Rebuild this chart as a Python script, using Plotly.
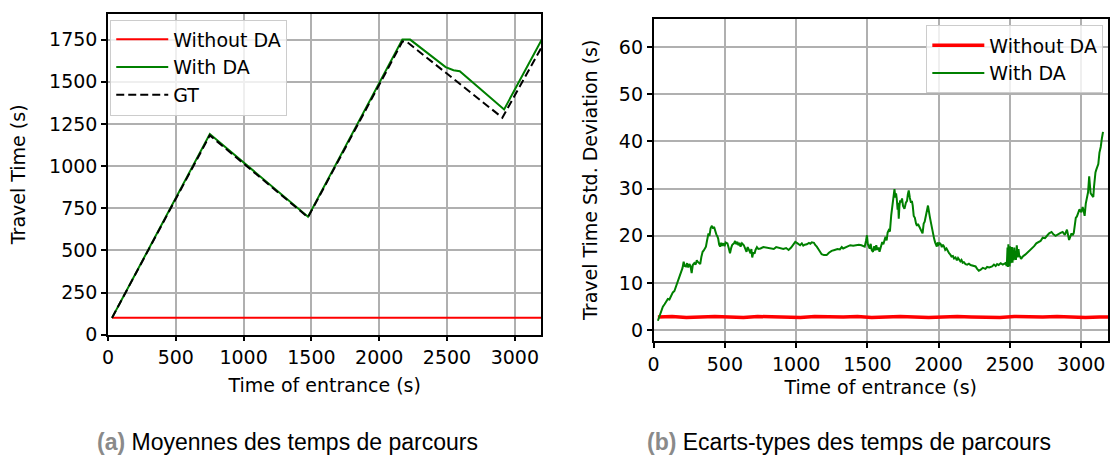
import plotly.graph_objects as go

# ---------------- data ----------------
# (a) mean travel time vs time of entrance
without_mean_x = [30, 3200]
without_mean_y = [100, 100]

with_mean_x = [30, 751, 1475, 2171, 2228, 2490, 2548, 2594, 2921, 3200]
with_mean_y = [100, 1190, 700, 1750, 1750, 1587, 1568, 1562, 1336, 1752]

gt_x = [30, 751, 1475, 2171, 2202, 2908, 3200]
gt_y = [100, 1182, 696, 1738, 1738, 1287, 1708]

# (b) travel time standard deviation vs time of entrance
without_std_x = [30, 130, 230, 330, 430, 530, 630, 730, 830, 930, 1030, 1130,
                 1230, 1330, 1430, 1530, 1630, 1730, 1830, 1930, 2030, 2130,
                 2230, 2330, 2430, 2530, 2630, 2730, 2830, 2930, 3030, 3130, 3200]
without_std_y = [2.8, 2.9, 2.7, 2.8, 2.9, 2.8, 2.7, 2.9, 2.8, 2.8, 2.7, 2.9,
                 2.8, 2.8, 2.9, 2.7, 2.8, 2.9, 2.8, 2.7, 2.8, 2.9, 2.8, 2.8,
                 2.7, 2.9, 2.8, 2.8, 2.9, 2.8, 2.7, 2.8, 2.8]

with_std_x = [30, 45, 53, 65, 77, 90, 100, 111, 125, 135, 146, 158, 169, 180,
              193, 203, 211, 218, 227, 235, 243, 251, 259, 267, 275, 286, 295,
              303, 309, 318, 327, 335, 344, 352, 360, 367, 375, 385, 392, 400,
              409, 418, 424, 430, 440, 447, 453, 460, 467, 474, 480, 490, 498,
              505, 518, 527, 536, 545, 552, 564, 572, 580, 587, 595, 603, 610,
              620, 633, 642, 652, 660, 668, 680, 686, 692, 700, 708, 715, 725,
              735, 750, 770, 796, 820, 843, 860, 875, 889, 910, 930, 947, 965,
              980, 994, 1010, 1020, 1028, 1040, 1050, 1060, 1075, 1090, 1100,
              1110, 1125, 1135, 1145, 1160, 1179, 1195, 1214, 1230, 1249, 1270,
              1290, 1307, 1320, 1330, 1342, 1360, 1380, 1400, 1420, 1440, 1458,
              1470, 1481, 1490, 1497, 1503, 1509, 1516, 1523, 1530, 1539, 1548,
              1555, 1562, 1570, 1578, 1585, 1594, 1604, 1612, 1620, 1627, 1635,
              1642, 1650, 1658, 1667, 1675, 1684, 1690, 1696, 1701, 1706, 1712,
              1716, 1720, 1725, 1730, 1736, 1743, 1750, 1760, 1770, 1778, 1784,
              1790, 1798, 1806, 1812, 1818, 1825, 1833, 1841, 1848, 1855, 1864,
              1872, 1880, 1887, 1895, 1902, 1906, 1912, 1919, 1925, 1931, 1938,
              1945, 1952, 1961, 1968, 1975, 1987, 1993, 2000, 2008, 2015, 2022,
              2030, 2038, 2046, 2055, 2065, 2073, 2082, 2090, 2100, 2108, 2118,
              2128, 2136, 2143, 2152, 2160, 2168, 2177, 2188, 2200, 2212, 2224,
              2240, 2259, 2270, 2282, 2295, 2310, 2328, 2340, 2355, 2375, 2388,
              2400, 2410, 2421, 2435, 2450, 2468, 2478, 2483, 2486, 2489, 2492,
              2495, 2498, 2501, 2504, 2507, 2510, 2514, 2518, 2522, 2526, 2530,
              2534, 2538, 2542, 2548, 2555, 2560, 2565, 2571, 2578, 2590, 2607,
              2625, 2640, 2653, 2670, 2685, 2700, 2715, 2730, 2746, 2760, 2775,
              2792, 2805, 2820, 2839, 2855, 2870, 2885, 2900, 2915, 2932, 2940,
              2948, 2955, 2962, 2970, 2978, 2988, 3001, 3010, 3017, 3024, 3032,
              3040, 3048, 3056, 3066, 3075, 3085, 3090, 3094, 3100, 3106, 3113,
              3120, 3128, 3137, 3145, 3153, 3160, 3169, 3178, 3188, 3200]
with_std_y = [2.0, 3.5, 4.1, 5.0, 5.5, 6.0, 6.6, 6.5, 7.6, 8.0, 8.3, 9.4, 10.3,
              11.5, 12.4, 13.2, 14.5, 13.6, 13.5, 14.2, 13.3, 14.0, 13.6, 12.1,
              13.8, 14.2, 13.9, 14.8, 14.5, 14.3, 14.0, 15.5, 16.6, 16.9, 17.4,
              17.7, 19.0, 20.5, 20.0, 21.6, 22.1, 21.5, 21.9, 21.2, 20.3, 19.9,
              19.4, 18.1, 17.7, 18.5, 17.9, 18.4, 17.8, 18.6, 18.4, 17.4, 16.3,
              17.5, 18.1, 18.4, 18.9, 18.2, 18.7, 18.0, 18.5, 17.7, 18.4, 18.0,
              17.2, 16.6, 17.6, 17.0, 16.3, 17.2, 15.4, 16.5, 16.2, 17.0, 17.6,
              17.2, 17.3, 17.6, 17.5, 17.3, 17.2, 17.6, 17.5, 17.3, 17.2, 17.4,
              17.0, 17.5, 18.2, 18.7, 18.4, 18.1, 18.0, 18.4, 17.9, 18.1, 18.2,
              18.5, 18.3, 18.6, 18.5, 18.0, 17.7, 17.0, 16.1, 15.9, 15.9, 16.4,
              16.8, 17.0, 17.2, 17.1, 17.6, 17.3, 17.5, 17.8, 18.0, 17.9, 18.0,
              18.1, 18.0, 17.8, 17.7, 18.9, 20.1, 18.2, 17.6, 17.3, 18.3, 17.0,
              16.6, 17.8, 16.9, 18.0, 17.0, 17.5, 16.6, 17.4, 18.7, 18.2, 19.5,
              19.8, 19.0, 20.7, 21.2, 20.9, 24.3, 26.8, 28.3, 29.9, 28.1, 29.0,
              27.8, 25.5, 27.0, 23.6, 26.4, 27.5, 27.1, 27.9, 26.3, 25.7, 27.0,
              27.4, 28.8, 29.6, 28.0, 27.0, 27.4, 26.4, 24.2, 23.8, 22.6, 22.1,
              22.5, 21.9, 21.4, 21.0, 20.5, 22.6, 23.0, 23.6, 25.0, 25.5, 26.4,
              24.6, 24.0, 22.9, 21.6, 20.1, 19.4, 18.6, 17.7, 18.6, 18.1, 18.4,
              18.2, 17.6, 18.1, 17.7, 17.0, 17.3, 16.5, 16.3, 16.0, 15.6, 15.7,
              15.2, 15.4, 14.8, 15.3, 14.9, 14.6, 14.9, 14.3, 14.4, 14.0, 13.9,
              14.1, 13.8, 13.6, 13.5, 13.0, 12.6, 12.8, 13.2, 13.0, 13.4, 13.3,
              13.5, 13.9, 13.6, 14.0, 13.8, 14.2, 13.9, 14.2, 13.6, 17.5, 13.4,
              18.2, 14.0, 17.2, 13.5, 17.8, 14.2, 17.0, 14.6, 17.6, 14.3, 16.8,
              14.8, 17.5, 15.0, 16.4, 14.9, 18.0, 15.4, 17.2, 15.8, 15.6, 15.1,
              15.6, 16.0, 16.5, 17.0, 17.3, 17.8, 18.4, 18.6, 18.9, 19.6, 19.5,
              20.0, 20.5, 20.8, 20.3, 20.0, 20.4, 20.6, 20.8, 20.2, 21.3, 19.1,
              20.5, 20.1, 20.6, 22.2, 23.8, 24.1, 24.7, 25.6, 25.0, 26.1, 25.3,
              24.2, 26.8, 28.5, 29.2, 32.6, 29.0, 28.6, 28.2, 30.4, 31.8, 33.4,
              34.0, 34.5, 35.2, 37.6, 38.8, 40.6, 42.0]

x_ticks = [0, 500, 1000, 1500, 2000, 2500, 3000]
mean_ticks = [0, 250, 500, 750, 1000, 1250, 1500, 1750]
std_ticks = [0, 10, 20, 30, 40, 50, 60]

RED = "#ff0000"
GREEN = "#008000"
FONT = "DejaVu Sans"
FS = 19

fig = go.Figure()

# ---- panel (a) ----
fig.add_trace(go.Scatter(x=without_mean_x, y=without_mean_y, mode="lines",
                         name="Without DA", line=dict(color=RED, width=2),
                         xaxis="x", yaxis="y", legend="legend"))
fig.add_trace(go.Scatter(x=with_mean_x, y=with_mean_y, mode="lines",
                         name="With DA", line=dict(color=GREEN, width=2),
                         xaxis="x", yaxis="y", legend="legend"))
fig.add_trace(go.Scatter(x=gt_x, y=gt_y, mode="lines", name="GT",
                         line=dict(color="black", width=2, dash="8px,4px"),
                         xaxis="x", yaxis="y", legend="legend"))

# ---- panel (b) ----
fig.add_trace(go.Scatter(x=without_std_x, y=without_std_y, mode="lines",
                         name="Without DA", line=dict(color=RED, width=3.5),
                         xaxis="x2", yaxis="y2", legend="legend2"))
fig.add_trace(go.Scatter(x=with_std_x, y=with_std_y, mode="lines",
                         name="With DA", line=dict(color=GREEN, width=2),
                         xaxis="x2", yaxis="y2", legend="legend2"))

axis_common = dict(
    showline=True, linecolor="black", linewidth=1.5, mirror=True,
    ticks="outside", ticklen=5, tickwidth=1.5, tickcolor="black",
    showgrid=True, gridcolor="#b0b0b0", gridwidth=1.5, zeroline=False,
    tickfont=dict(family=FONT, size=FS, color="black"),
)

W, H = 1110, 456


def px_x(v):
    return v / W


def px_y(v):
    return 1 - v / H


legend_common = dict(xanchor="left", yanchor="top",
                     bgcolor="rgba(255,255,255,0.8)", bordercolor="#cccccc",
                     borderwidth=1, itemwidth=52,
                     font=dict(family=FONT, size=FS))

fig.update_layout(
    width=W, height=H,
    margin=dict(l=0, r=0, t=0, b=0),
    paper_bgcolor="white", plot_bgcolor="white",
    font=dict(family=FONT, size=FS, color="black"),
    xaxis=dict(domain=[px_x(102.7), px_x(539.3)], range=[0, 3196],
               tickvals=x_ticks, anchor="y",
               title=dict(text="Time of entrance (s)", standoff=11,
                          font=dict(family=FONT, size=FS)),
               **axis_common),
    yaxis=dict(domain=[px_y(343), px_y(14.3)], range=[0, 1902],
               tickvals=mean_ticks, anchor="x",
               title=dict(text="Travel Time (s)", standoff=18,
                          font=dict(family=FONT, size=FS)),
               **axis_common),
    xaxis2=dict(domain=[px_x(652.3), 1.0], range=[0, 3188],
                tickvals=x_ticks, anchor="y2",
                title=dict(text="Time of entrance (s)", standoff=7,
                           font=dict(family=FONT, size=FS)),
                **axis_common),
    yaxis2=dict(domain=[px_y(349.5), px_y(19)], range=[-2.3, 66],
                tickvals=std_ticks, anchor="x2",
                title=dict(text="Travel Time Std. Deviation (s)", standoff=16,
                           font=dict(family=FONT, size=FS)),
                **axis_common),
    legend=dict(x=px_x(105), y=px_y(20), **legend_common),
    legend2=dict(x=px_x(927), y=px_y(26), **legend_common),
    showlegend=True,
)

CAP_FONT = "Liberation Sans Narrow, Liberation Sans, Arial, sans-serif"
captions = [
    (284, "<span style='color:#8a8a8a'><b>(a)</b></span> Moyennes des temps de parcours"),
    (849, "<span style='color:#8a8a8a'><b>(b)</b></span> Ecarts-types des temps de parcours"),
]
for cx, txt in captions:
    fig.add_annotation(x=px_x(cx), y=px_y(453), xref="paper", yref="paper",
                       text=txt, showarrow=False, xanchor="center",
                       yanchor="middle",
                       font=dict(family=CAP_FONT, size=23, color="black"))

fig.write_html("out.html")
